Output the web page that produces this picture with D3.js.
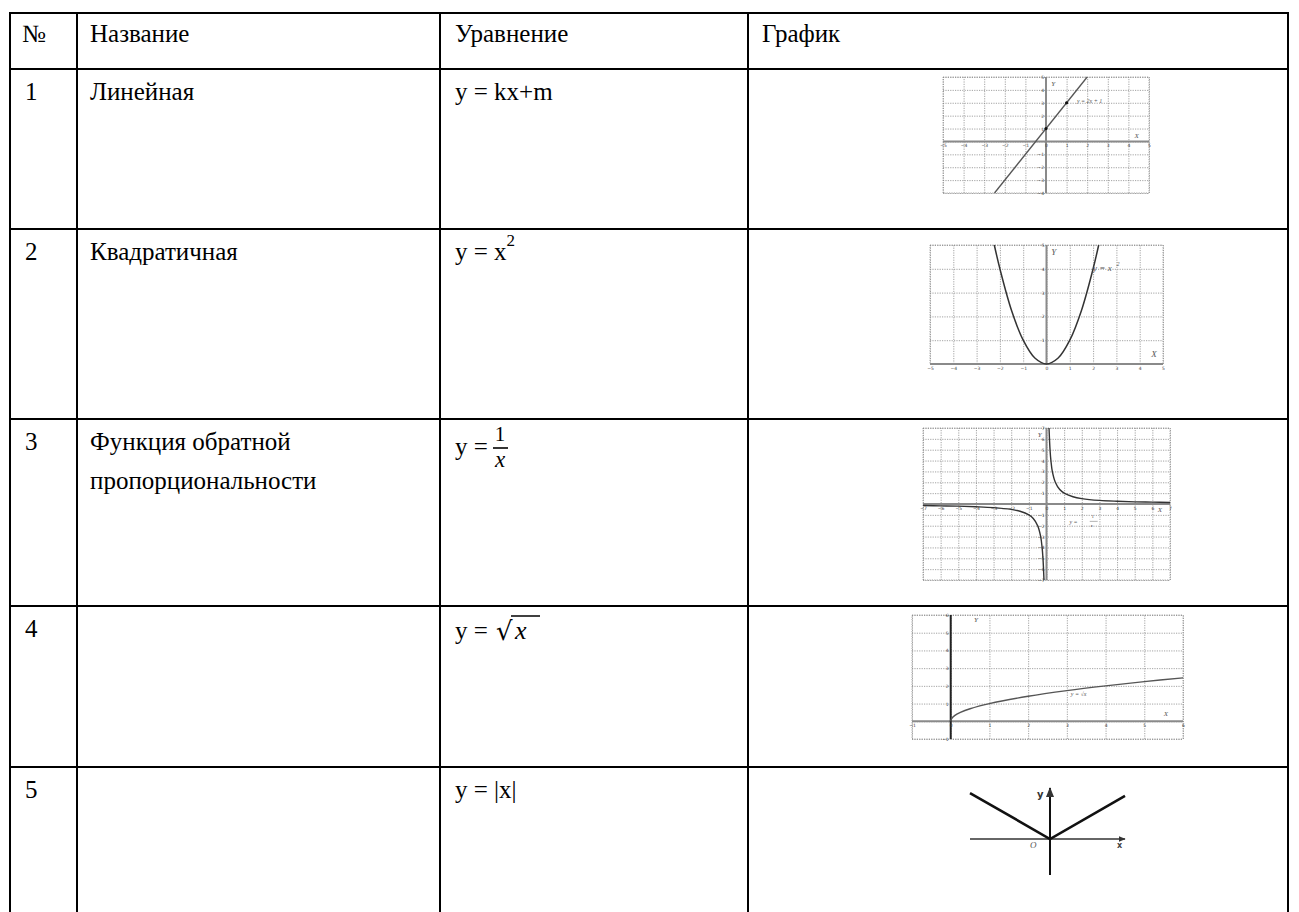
<!DOCTYPE html>
<meta charset="utf-8">
<style>
body { margin: 0; background: #fff; }
.grid line { stroke: #8c8c8c; stroke-width: 0.8; stroke-dasharray: 1.2,1.2; }
.grid path { display: none; }
.ticks path, .ticks line { display: none; }
.ticks text { font-size: 4.5px; fill: #444; }
</style>
<body>
<script src="https://cdn.jsdelivr.net/npm/d3@7/dist/d3.min.js"></script>
<script>
// table text
const headers = ["№", "Название", "Уравнение", "График"];
const rowNumbers = ["1", "2", "3", "4", "5"];
const rowNames = [["Линейная"], ["Квадратичная"], ["Функция обратной", "пропорциональности"], [], []];

// table layout
const colX = [10, 77, 440, 748, 1288];
const rowY = [13, 69, 229, 419, 606, 767];
const pageH = 912;
const SERIF = "'Liberation Serif'";
const SANS = "'DejaVu Sans'";
const FS = 25;

// graph 1: y = 2x + 1
const linTicksX = [-5, -4, -3, -2, -1, 0, 1, 2, 3, 4, 5];
const linTicksY = [-4, -3, -2, -1, 0, 1, 2, 3, 4, 5];
const linX = [-2.5, 2];
const linY = [-4, 5];
const linDotX = [0, 1];
const linDotY = [1, 3];

// graph 2: y = x^2
const parTicksX = [-5, -4, -3, -2, -1, 0, 1, 2, 3, 4, 5];
const parTicksY = [0, 1, 2, 3, 4, 5];
const parX = [-2.24, -2, -1.5, -1, -0.5, 0, 0.5, 1, 1.5, 2, 2.24];
const parY = [5, 4, 2.25, 1, 0.25, 0, 0.25, 1, 2.25, 4, 5];

// graph 3: y = 1/x
const hypTicks = [-7, -6, -5, -4, -3, -2, -1, 0, 1, 2, 3, 4, 5, 6, 7];
const hypX = [0.143, 0.2, 0.25, 0.33, 0.5, 0.75, 1, 1.5, 2, 3, 4, 5, 6, 7];
const hypY = [7, 5, 4, 3, 2, 1.33, 1, 0.67, 0.5, 0.33, 0.25, 0.2, 0.17, 0.14];
const hypNegX = [-7, -6, -5, -4, -3, -2, -1.5, -1, -0.75, -0.5, -0.33, -0.25, -0.2, -0.143];
const hypNegY = [-0.14, -0.17, -0.2, -0.25, -0.33, -0.5, -0.67, -1, -1.33, -2, -3, -4, -5, -7];

// graph 4: y = sqrt(x)
const sqrtTicks = [-1, 0, 1, 2, 3, 4, 5, 6];
const sqrtX = [0, 0.02, 0.1, 0.25, 0.5, 1, 2, 3, 4, 5, 6];
const sqrtY = [0, 0.14, 0.32, 0.5, 0.71, 1, 1.41, 1.73, 2, 2.24, 2.45];

// graph 5: y = |x|
const absX = [-8, 0, 7.5];
const absY = [8, 0, 7.5];

const svg = d3.select("body").append("svg")
    .attr("width", 1299)
    .attr("height", pageH)
    .style("display", "block");

svg.append("defs").append("marker")
    .attr("id", "arr")
    .attr("viewBox", "0 0 10 10")
    .attr("refX", 9).attr("refY", 5)
    .attr("markerWidth", 5).attr("markerHeight", 5)
    .attr("orient", "auto")
  .append("path")
    .attr("d", "M0,1L10,5L0,9z")
    .attr("fill", "#333");

function txt(sel, x, y, s, size, fam) {
  return sel.append("text")
      .attr("x", x).attr("y", y)
      .style("font-family", fam || SERIF)
      .style("font-size", (size || FS) + "px")
      .text(s);
}

// ---- table ----
const borders = svg.append("g").attr("stroke", "#000").attr("stroke-width", 2);
borders.selectAll(".h").data(rowY).join("line")
    .attr("x1", colX[0] - 1).attr("x2", colX[4] + 1)
    .attr("y1", d => d).attr("y2", d => d);
borders.selectAll(".v").data(colX).join("line")
    .attr("x1", d => d).attr("x2", d => d)
    .attr("y1", rowY[0]).attr("y2", pageH);

const textX = [22, 90, 455, 762];
headers.forEach((h, i) => txt(svg, textX[i], rowY[0] + 29, h));
rowNumbers.forEach((n, i) => txt(svg, textX[0] + 3, rowY[i + 1] + 31, n));
rowNames.forEach((lines, i) => {
  lines.forEach((s, j) => txt(svg, textX[1], rowY[i + 1] + 31 + j * 39, s));
});

// equations
const ex = textX[2];
txt(svg, ex, rowY[1] + 31, "y = kx+m");

const e2 = txt(svg, ex, rowY[2] + 31, "");
e2.append("tspan").text("y = x");
e2.append("tspan").style("font-size", "17px").attr("dy", -14).text("2");

txt(svg, ex, rowY[3] + 36, "y =");
txt(svg, 500, rowY[3] + 22, "1", 21).attr("text-anchor", "middle");
svg.append("line").attr("x1", 493).attr("x2", 508)
    .attr("y1", rowY[3] + 29).attr("y2", rowY[3] + 29)
    .attr("stroke", "#000").attr("stroke-width", 1.6);
txt(svg, 500, rowY[3] + 48, "x", 23).attr("text-anchor", "middle").style("font-style", "italic");

txt(svg, ex, rowY[4] + 33, "y =");
txt(svg, 496, rowY[4] + 34, "√", 26, "'DejaVu Serif'");
svg.append("line").attr("x1", 511).attr("x2", 540)
    .attr("y1", rowY[4] + 10).attr("y2", rowY[4] + 10)
    .attr("stroke", "#000").attr("stroke-width", 1.5);
txt(svg, 515, rowY[4] + 33, "x", 26).style("font-style", "italic");

txt(svg, ex, rowY[5] + 31, "y = |x|");

// ---- small graphs ----
function plot(o) {
  const g = svg.append("g");
  const x = d3.scaleLinear().domain(o.xd).range(o.xr);
  const y = d3.scaleLinear().domain(o.yd).range(o.yr);
  const h = o.yr[0] - o.yr[1], w = o.xr[1] - o.xr[0];

  g.append("g").attr("class", "grid")
      .attr("transform", `translate(0,${o.yr[0]})`)
      .call(d3.axisBottom(x).tickValues(o.xt).tickSize(-h).tickFormat(""));
  g.append("g").attr("class", "grid")
      .attr("transform", `translate(${o.xr[0]},0)`)
      .call(d3.axisLeft(y).tickValues(o.yt).tickSize(-w).tickFormat(""));
  g.append("rect")
      .attr("x", o.xr[0]).attr("y", o.yr[1]).attr("width", w).attr("height", h)
      .attr("fill", "none").attr("stroke", "#8c8c8c").attr("stroke-width", 0.8)
      .attr("stroke-dasharray", "1.2,1.2");

  // axes
  g.append("line").attr("x1", o.xr[0]).attr("x2", o.xr[1])
      .attr("y1", y(0)).attr("y2", y(0))
      .attr("stroke", "#8a8a8a").attr("stroke-width", 2);
  g.append("line").attr("x1", x(0)).attr("x2", x(0))
      .attr("y1", o.yr[0]).attr("y2", o.yr[1])
      .attr("stroke", o.yAxisColor || "#8a8a8a").attr("stroke-width", 2);

  const tx = g.append("g").attr("class", "ticks")
      .attr("transform", `translate(0,${y(0) + 1})`)
      .call(d3.axisBottom(x).tickValues(o.xt).tickSize(0).tickPadding(1.5).tickFormat(d3.format("d")));
  const ty = g.append("g").attr("class", "ticks")
      .attr("transform", `translate(${x(0) - 1},0)`)
      .call(d3.axisLeft(y).tickValues(o.yt.filter(v => v !== 0)).tickSize(0).tickPadding(1).tickFormat(d3.format("d")));
  tx.selectAll("text").style("font-family", SANS);
  ty.selectAll("text").style("font-family", SANS);

  const line = d3.line().x(d => x(d[0])).y(d => y(d[1])).curve(d3.curveCatmullRom);
  o.curves.forEach(c => {
    g.append("path")
        .datum(d3.zip(c[0], c[1]))
        .attr("d", line)
        .attr("fill", "none")
        .attr("stroke", o.curveColor || "#333")
        .attr("stroke-width", o.curveWidth || 1.4);
  });
  (o.dots || []).forEach(dd => {
    g.selectAll(null).data(d3.zip(dd[0], dd[1])).join("circle")
        .attr("cx", d => x(d[0])).attr("cy", d => y(d[1]))
        .attr("r", 1.6).attr("fill", "#111");
  });
  o.labels.forEach(l => {
    txt(g, x(l[0]), y(l[1]), l[2], l[3] || 8)
        .style("font-style", "italic").attr("fill", "#555");
  });
  return {x, y, g};
}

plot({
  xd: [-5, 5], xr: [943, 1149], yd: [-4, 5], yr: [193, 77],
  xt: linTicksX, yt: linTicksY,
  curves: [[linX, linY]], curveColor: "#555", curveWidth: 1.3,
  dots: [[linDotX, linDotY]],
  labels: [[0.25, 4.3, "Y", 7], [1.5, 3, "y = 2x + 1", 6], [4.3, 0.3, "X", 7]]
});

const p2 = plot({
  xd: [-5, 5], xr: [930, 1163], yd: [0, 5], yr: [364, 245],
  xt: parTicksX, yt: parTicksY,
  curves: [[parX, parY]], curveColor: "#333", curveWidth: 1.5,
  labels: [[0.2, 4.6, "Y", 9], [2.0, 3.9, "y = x", 9], [4.5, 0.3, "X", 9]]
});
txt(p2.g, p2.x(3.0), p2.y(4.1), "2", 6).style("font-style", "italic").attr("fill", "#555");

const p3 = plot({
  xd: [-7, 7], xr: [923, 1170], yd: [-7, 7], yr: [580, 428],
  xt: hypTicks, yt: hypTicks,
  curves: [[hypX, hypY], [hypNegX, hypNegY]], curveColor: "#333", curveWidth: 1.4,
  labels: [[-0.5, 6.2, "Y", 7], [6.3, -0.7, "X", 7], [1.3, -1.8, "y =", 6]]
});
txt(p3.g, p3.x(2.55), p3.y(-1.3), "1", 5).attr("fill", "#555");
p3.g.append("line").attr("x1", p3.x(2.45)).attr("x2", p3.x(2.9))
    .attr("y1", p3.y(-1.6)).attr("y2", p3.y(-1.6)).attr("stroke", "#666").attr("stroke-width", 0.5);
txt(p3.g, p3.x(2.5), p3.y(-2.1), "x", 5).style("font-style", "italic").attr("fill", "#555");

plot({
  xd: [-1, 6], xr: [912, 1183], yd: [-1, 6], yr: [739, 615],
  xt: sqrtTicks, yt: sqrtTicks, yAxisColor: "#222",
  curves: [[sqrtX, sqrtY]], curveColor: "#555", curveWidth: 1.4,
  labels: [[0.6, 5.6, "Y", 7], [5.5, 0.3, "X", 7], [3.1, 1.4, "y = √x", 6]]
});

// graph 5: plain axes with arrows
const x5 = d3.scaleLinear().domain([-8, 7.5]).range([970, 1125]);
const y5 = d3.scaleLinear().domain([-6.26, 8.87]).range([875, 788]);
const g5 = svg.append("g");
g5.append("line").attr("x1", x5(-8)).attr("x2", x5(7.5))
    .attr("y1", y5(0)).attr("y2", y5(0))
    .attr("stroke", "#333").attr("stroke-width", 1.4).attr("marker-end", "url(#arr)");
g5.append("line").attr("x1", x5(0)).attr("x2", x5(0))
    .attr("y1", y5(-6.26)).attr("y2", y5(8.87))
    .attr("stroke", "#111").attr("stroke-width", 2).attr("marker-end", "url(#arr)");
g5.append("path")
    .datum(d3.zip(absX, absY))
    .attr("d", d3.line().x(d => x5(d[0])).y(d => y5(d[1])))
    .attr("fill", "none").attr("stroke", "#111").attr("stroke-width", 2.6);
txt(g5, x5(-1.3), y5(7.2), "y", 10, SANS).style("font-weight", "bold").attr("fill", "#333");
txt(g5, x5(-2), y5(-1.5), "O", 9).style("font-style", "italic").attr("fill", "#555");
txt(g5, x5(6.7), y5(-1.5), "x", 8, SANS).style("font-weight", "bold").attr("fill", "#444");
</script>
</body>
